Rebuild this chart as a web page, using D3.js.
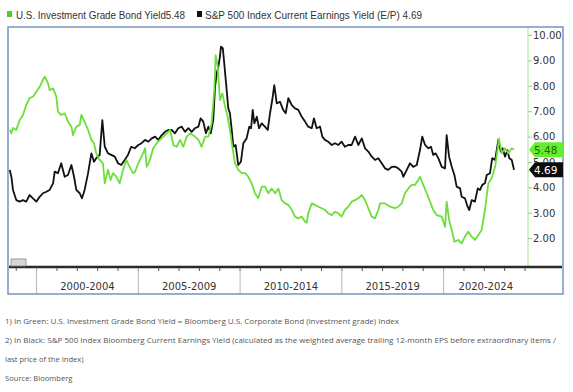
<!DOCTYPE html>
<html><head><meta charset="utf-8">
<script src="https://cdn.jsdelivr.net/npm/d3@7"></script>
<style>body{margin:0;background:#fff} svg{display:block}</style>
</head><body><svg id="c" width="573" height="392"></svg>
<script>
const gYears=[1998.68,1998.76,1998.84,1999.00,1999.17,1999.33,1999.49,1999.66,1999.82,1999.99,
2000.15,2000.31,2000.40,2000.56,2000.64,2000.81,2000.97,2001.05,2001.21,2001.38,
2001.54,2001.71,2001.79,2001.95,2002.12,2002.20,2002.36,2002.53,2002.69,2002.82,
2002.93,2003.10,2003.26,2003.35,2003.51,2003.64,2003.75,2003.92,2004.08,2004.25,
2004.41,2004.57,2004.74,2004.84,
2005.00,2005.16,2005.33,2005.41,2005.57,2005.73,2005.90,2006.06,2006.23,2006.39,
2006.56,2006.72,2006.88,2007.05,2007.21,2007.38,2007.54,2007.78,2007.95,2008.11,
2008.28,2008.44,2008.60,2008.73,2008.80,2008.90,2009.01,2009.13,2009.26,2009.39,
2009.50,2009.62,2009.75,2009.91,2010.08,2010.24,2010.40,2010.57,2010.73,2010.89,
2011.06,2011.22,2011.39,2011.55,2011.72,2011.88,2012.04,2012.21,2012.37,2012.54,
2012.70,2012.86,2013.03,2013.19,2013.27,2013.35,2013.52,2013.68,2013.84,2014.01,
2014.17,2014.33,2014.50,2014.66,2014.83,2014.99,2015.15,2015.32,2015.48,2015.65,
2015.81,2015.98,2016.14,2016.30,2016.47,2016.63,2016.79,2016.88,2017.12,2017.37,
2017.61,2017.77,2017.94,2018.10,2018.27,2018.43,2018.59,2018.76,2018.84,2019.00,
2019.17,2019.33,2019.49,2019.66,2019.91,2020.07,2020.15,2020.27,2020.40,2020.53,
2020.72,2020.89,2021.05,2021.21,2021.38,2021.54,2021.71,2021.87,2022.03,2022.20,
2022.36,2022.53,2022.66,2022.72,2022.86,2023.02,2023.18,2023.35,2023.46];
const gValues=[6.26,6.13,6.34,6.26,6.65,6.85,7.24,7.52,7.57,7.77,
7.96,8.23,8.36,8.10,7.83,7.90,7.57,6.98,6.85,6.92,
6.59,6.39,6.06,6.39,6.46,6.85,6.59,6.26,5.87,5.74,
5.34,5.08,4.95,4.16,4.69,4.29,4.56,4.42,4.16,4.69,
5.08,4.81,4.56,4.62,
4.95,5.21,5.54,4.81,5.08,5.54,5.74,5.87,6.00,6.13,
6.26,5.67,5.60,5.87,5.60,6.00,6.13,6.00,5.87,5.60,
6.00,6.00,6.52,7.83,9.21,8.75,7.44,7.70,7.18,6.78,
6.26,5.60,4.95,4.69,4.56,4.56,4.42,4.16,3.77,3.57,
4.03,4.03,3.77,3.96,3.77,3.96,3.50,3.37,3.31,3.11,
2.85,2.78,2.85,2.65,2.61,2.98,3.37,3.31,3.24,3.18,
3.11,2.98,2.91,3.04,2.98,2.85,3.11,3.24,3.44,3.50,
3.57,3.70,3.50,3.18,2.85,2.78,3.11,3.37,3.37,3.24,
3.18,3.24,3.37,3.77,3.96,4.10,4.10,4.29,4.42,4.10,
3.77,3.44,3.11,2.91,2.85,2.45,3.44,2.72,2.32,1.86,
1.93,1.80,2.06,2.26,2.06,1.93,2.13,2.32,3.11,4.16,
4.36,4.81,5.54,5.93,5.34,5.54,5.34,5.54,5.48];
const bYears=[1998.68,1998.76,1998.84,1999.00,1999.17,1999.33,1999.49,1999.66,1999.82,1999.99,
2000.15,2000.31,2000.48,2000.64,2000.81,2000.89,2001.05,2001.21,2001.38,2001.54,
2001.71,2001.84,2001.95,2002.12,2002.23,2002.36,2002.53,2002.69,2002.82,2002.93,
2003.10,2003.23,2003.35,2003.51,2003.67,2003.84,2004.00,2004.16,2004.33,2004.49,
2004.65,2004.82,2005.00,2005.16,2005.33,2005.49,2005.66,2005.82,2005.98,2006.15,
2006.31,2006.47,2006.64,2006.80,2006.96,2007.13,2007.29,2007.46,2007.62,2007.78,
2007.95,2008.06,2008.19,2008.32,2008.44,2008.56,2008.68,2008.77,2008.85,2008.93,
2009.01,2009.06,2009.15,2009.22,2009.34,2009.42,2009.50,2009.59,2009.67,2009.78,
2009.91,2010.04,2010.16,2010.32,2010.45,2010.54,2010.62,2010.70,2010.82,2010.93,
2011.06,2011.22,2011.36,2011.47,2011.58,2011.68,2011.80,2011.96,2012.12,2012.24,
2012.37,2012.54,2012.70,2012.86,2013.03,2013.19,2013.35,2013.52,2013.63,2013.76,
2013.93,2014.04,2014.17,2014.33,2014.50,2014.66,2014.83,2014.99,2015.15,2015.32,
2015.48,2015.65,2015.81,2015.98,2016.14,2016.30,2016.47,2016.63,2016.79,2016.96,
2017.12,2017.28,2017.45,2017.61,2017.77,2017.94,2018.02,2018.19,2018.35,2018.51,
2018.68,2018.84,2018.95,2019.09,2019.25,2019.38,2019.49,2019.61,2019.74,2019.91,
2020.07,2020.15,2020.27,2020.40,2020.53,2020.64,2020.81,2020.89,2021.05,2021.18,
2021.26,2021.38,2021.54,2021.68,2021.79,2021.90,2022.03,2022.12,2022.28,2022.39,
2022.53,2022.61,2022.69,2022.81,2022.90,2023.02,2023.13,2023.23,2023.35,2023.46];
const bValues=[4.69,4.42,3.90,3.50,3.44,3.50,3.44,3.70,3.57,3.44,
3.63,3.77,3.83,3.90,4.16,4.62,4.56,4.95,4.42,4.49,
4.88,4.42,3.90,3.77,3.57,3.90,4.56,5.34,5.01,5.15,
5.28,6.65,5.60,5.34,5.28,5.21,4.95,4.88,5.08,5.28,
5.60,5.54,5.67,5.74,5.87,5.80,5.93,6.00,5.87,6.06,
6.19,6.26,6.26,6.13,6.33,6.39,6.19,6.33,6.19,6.33,
6.39,6.72,6.59,6.13,6.39,6.13,6.65,7.96,8.49,8.75,
9.15,9.54,9.48,8.89,7.83,7.11,6.92,6.26,5.60,5.67,
4.88,5.01,5.74,5.93,6.39,6.33,7.05,6.52,6.78,6.33,
6.52,6.39,6.26,6.92,7.44,8.03,7.31,7.37,7.05,6.92,
7.51,7.24,7.11,7.05,6.78,6.59,6.39,6.33,6.72,6.33,
6.39,6.00,5.87,5.80,5.67,5.74,5.67,5.80,5.60,5.67,
5.67,6.00,5.67,5.93,5.54,5.41,5.21,5.08,5.15,4.95,
4.75,4.69,4.81,4.82,4.75,4.62,4.42,4.69,4.95,4.81,
4.88,5.47,6.00,5.67,5.54,5.60,5.28,5.34,5.15,4.81,
4.75,6.06,5.21,4.81,4.49,4.03,3.96,3.63,3.57,3.24,
3.11,3.50,3.44,3.96,3.90,4.10,4.16,4.49,4.56,5.15,
5.08,5.47,5.87,5.41,5.54,5.21,5.47,5.15,5.08,4.69];
const yTicks=[2,3,4,5,6,7,8,9,10];
const periodStarts=[2000,2005,2010,2015,2020];
const periodLabels=["2000-2004","2005-2009","2010-2014","2015-2019","2020-2024"];
const yearTicks=[1999,2000,2001,2002,2003,2004,2005,2006,2007,2008,2009,2010,2011,2012,2013,2014,2015,2016,2017,2018,2019,2020,2021,2022,2023,2024];
const seriesNames=["U.S. Investment Grade Bond Yield","S&P 500 Index Current Earnings Yield (E/P)"];
const lastValues=["5.48","4.69"];
const notes=["1) In Green: U.S. Investment Grade Bond Yield = Bloomberg U.S. Corporate Bond (investment grade) Index",
"2) In Black: S&P 500 Index Bloomberg Current Earnings Yield (calculated as the weighted average trailing 12-month EPS before extraordinary items /",
"last price of the Index)",
"Source: Bloomberg"];

const GREEN="#6ddf3a", BLACK="#111";
const svg=d3.select("#c");
const P={left:9,right:528,top:27,bottom:267};
const x=d3.scaleLinear().domain([2000,2020]).range([36.6,443.6]);
const y=d3.scaleLinear().domain([2,10]).range([238.2,35]);

// legend
svg.append("rect").attr("x",7).attr("y",11).attr("width",5).attr("height",6).attr("fill","#4ccf1e");
svg.append("text").attr("x",16).attr("y",18.5).attr("font-family","Liberation Sans, Arial").attr("font-size",10.5)
  .attr("fill","#333").attr("textLength",169).attr("lengthAdjust","spacingAndGlyphs").text(seriesNames[0]+lastValues[0]);
svg.append("rect").attr("x",197).attr("y",11).attr("width",5).attr("height",6).attr("fill","#111");
svg.append("text").attr("x",205).attr("y",18.5).attr("font-family","Liberation Sans, Arial").attr("font-size",10.5)
  .attr("fill","#333").attr("textLength",217).attr("lengthAdjust","spacingAndGlyphs").text(seriesNames[1]+" "+lastValues[1]);

// clip
svg.append("clipPath").attr("id","clip").append("rect")
  .attr("x",P.left).attr("y",P.top).attr("width",P.right-P.left).attr("height",P.bottom-P.top);

// right axis
const ax=svg.append("g");
ax.append("line").attr("x1",P.right).attr("x2",P.right).attr("y1",P.top).attr("y2",P.bottom)
  .attr("stroke","#a6e68a").attr("stroke-width",1);
const yAxis=d3.axisRight(y).tickValues(yTicks).tickSize(4).tickPadding(1).tickFormat(d3.format(".2f"));
const ya=svg.append("g").attr("transform",`translate(${P.right},0)`).call(yAxis);
ya.select(".domain").remove();
ya.selectAll(".tick line").attr("stroke","#9bc98a");
ya.selectAll(".tick text").attr("font-family","DejaVu Sans").attr("font-size",10).attr("fill","#333");

// lines
const line=d3.line().x(d=>x(d[0])).y(d=>y(d[1]));
const lg=svg.append("g").attr("clip-path","url(#clip)");
lg.append("path").datum(bYears.map((t,i)=>[t,bValues[i]])).attr("d",line)
  .attr("fill","none").attr("stroke",BLACK).attr("stroke-width",1.8).attr("stroke-linejoin","round");
lg.append("path").datum(gYears.map((t,i)=>[t,gValues[i]])).attr("d",line)
  .attr("fill","none").attr("stroke",GREEN).attr("stroke-width",1.8).attr("stroke-linejoin","round");
// redraw black on top where overlapping? keep green over black as in reference late segment
// bottom axis
svg.append("line").attr("x1",P.left).attr("x2",562).attr("y1",P.bottom).attr("y2",P.bottom)
  .attr("stroke","#2a2a2a").attr("stroke-width",2.5);
svg.append("g").selectAll("line").data(yearTicks).join("line")
  .attr("x1",d=>x(d)).attr("x2",d=>x(d)).attr("y1",P.bottom+1).attr("y2",P.bottom+4)
  .attr("stroke","#555").attr("stroke-width",1);
svg.append("rect").attr("x",11).attr("y",259).attr("width",15).attr("height",7)
  .attr("fill","#d8d8d8").attr("stroke","#888").attr("stroke-width",0.8);

// period separators & labels
svg.append("g").selectAll("line").data(periodStarts).join("line")
  .attr("x1",d=>x(d)).attr("x2",d=>x(d)).attr("y1",P.bottom+1).attr("y2",294)
  .attr("stroke","#b8b8b8").attr("stroke-width",1);
const ends=periodStarts.slice(1).map(d=>x(d)).concat([P.right]);
svg.append("g").selectAll("text").data(periodLabels).join("text")
  .attr("x",(d,i)=>(x(periodStarts[i])+ends[i])/2).attr("y",290)
  .attr("text-anchor","middle").attr("font-family","DejaVu Sans").attr("font-size",10).attr("fill","#333").text(d=>d);

// frame
svg.append("rect").attr("x",8).attr("y",27).attr("width",555).attr("height",267)
  .attr("fill","none").attr("stroke","#7594c3").attr("stroke-width",1.5);

// value tags
function tag(v,fill,txt){
  const cy=y(+v);
  const pts=[[P.right+1,cy],[P.right+7,cy-7.5],[563,cy-7.5],[563,cy+7.5],[P.right+7,cy+7.5]];
  svg.append("polygon").attr("points",pts.map(p=>p.join(",")).join(" ")).attr("fill",fill);
  svg.append("text").attr("x",534).attr("y",cy).attr("dy","0.36em").attr("font-family","DejaVu Sans")
    .attr("font-size",10.5).attr("fill",txt).text(v);
}
tag(lastValues[0],"#66ee2e","#1d6a00");
tag(lastValues[1],"#0c0c0c","#ffffff");

// notes
svg.append("g").selectAll("text").data(notes).join("text")
  .attr("x",5).attr("y",(d,i)=>324+i*19)
  .attr("font-family","Open Sans").attr("font-size",7.6).attr("fill","#555")
  .each(function(d,i){ const s=d3.select(this); s.text(d);
     if(i===0) s.attr("textLength",394).attr("lengthAdjust","spacingAndGlyphs");
     if(i===1) s.attr("textLength",551).attr("lengthAdjust","spacingAndGlyphs"); });
</script></body></html>
